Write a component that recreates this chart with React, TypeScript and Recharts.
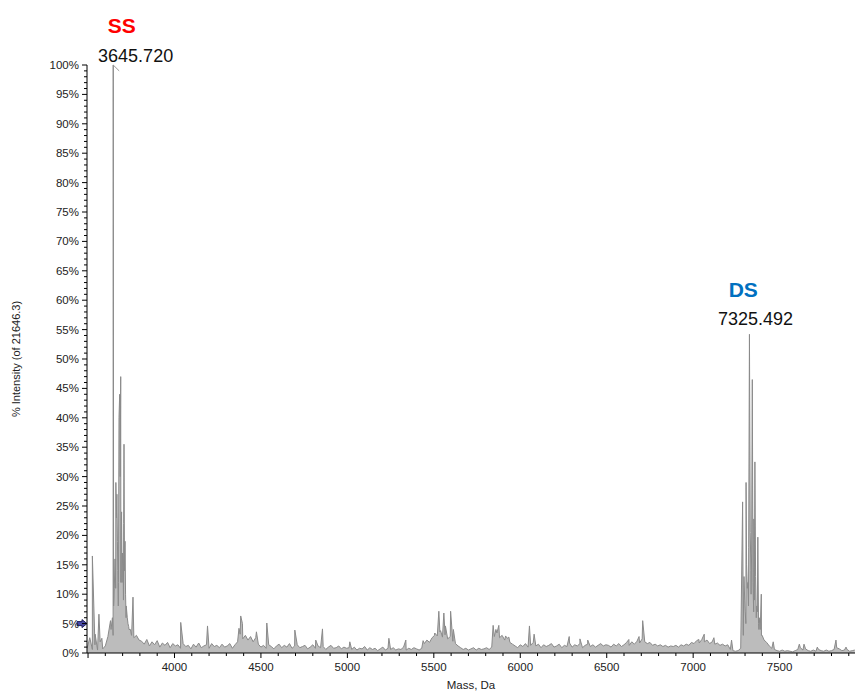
import { ComposedChart, Area, XAxis, YAxis, ReferenceDot, ReferenceLine } from 'recharts';

// baseline noise, sampled every 15 Da from 3495 Da (% intensity)
const noiseStart = 3495;
const noiseStep = 15;
const noise = [
  // 3495 - 3600
  0.8, 2.6, 0.6, 1.4, 0.5, 1.9, 0.7, 1.2,
  // 3615 - 3795 (SS cluster base)
  2.8, 5.5, 3.0, 11, 8, 12, 9, 6, 4.5, 3.2, 2.6, 3.0, 2.2,
  // 3810 - 4005
  2.0, 1.5, 2.3, 1.2, 1.9, 1.4, 2.1, 1.0, 1.7, 1.3, 1.8, 0.9, 1.6, 1.2,
  // 4020 - 4365
  1.4, 0.8, 1.6, 1.1, 1.3, 0.7, 1.5, 1.0, 1.7, 0.9, 1.2, 1.4, 0.8, 1.6, 1.1, 1.3, 0.9, 1.5, 1.0, 1.2, 1.6, 0.8, 1.4, 1.9,
  // 4380 - 4470
  3.2, 2.4, 3.0, 2.2, 2.8, 1.9, 2.6,
  // 4485 - 4995
  1.5, 1.0, 1.3, 0.8, 1.4, 1.1, 0.7, 1.2, 1.5, 0.9, 1.3, 1.0, 1.6, 0.8, 1.2, 1.4, 0.9, 1.1, 1.3, 0.7,
  1.0, 1.4, 0.8, 1.2, 0.9, 1.1, 0.6, 1.0, 1.3, 0.8, 0.9, 1.2, 0.7, 1.0, 0.8,
  // 5010 - 5445
  0.9, 0.6, 1.0, 0.5, 0.8, 0.7, 1.1, 0.5, 0.9, 0.6, 0.8, 0.4, 0.7, 1.0, 0.5, 0.8, 0.6, 0.9, 0.5, 0.7,
  0.6, 1.0, 0.5, 0.8, 0.6, 0.9, 0.7, 0.5, 0.8, 1.6,
  // 5460 - 5640
  2.2, 1.8, 2.6, 3.4, 2.9, 3.6, 2.7, 3.1, 2.4, 2.8, 2.0, 1.6, 1.2,
  // 5655 - 5835
  0.9, 0.6, 0.8, 0.5, 0.7, 0.9, 0.5, 0.8, 0.6, 0.7, 0.9, 0.6, 1.0,
  // 5850 - 5955
  2.8, 3.4, 2.6, 3.0, 2.2, 2.5, 1.8, 1.5,
  // 5970 - 6495
  1.2, 0.9, 1.4, 1.1, 1.6, 1.0, 1.3, 1.8, 1.2, 1.5, 0.9, 1.4, 1.1, 1.3, 1.6, 1.0, 1.2, 1.5, 0.9, 1.3,
  1.1, 1.7, 1.0, 1.4, 1.2, 1.6, 0.9, 1.3, 1.5, 1.1, 1.4, 1.0, 1.3, 1.6, 1.2, 1.4,
  // 6510 - 7200
  1.3, 1.0, 1.5, 1.2, 1.6, 1.1, 1.4, 1.8, 1.3, 1.9, 1.5, 2.0, 1.7, 2.4, 1.9, 1.6, 1.8, 1.3, 1.5, 1.2,
  1.4, 1.1, 1.3, 1.0, 1.2, 1.1, 1.3, 1.0, 1.4, 1.2, 1.5, 1.3, 1.8, 1.6, 2.1, 1.7, 2.3, 1.9, 2.2, 1.6,
  1.9, 1.5, 1.7, 1.3, 1.5, 1.2, 1.4,
  // 7215 - 7275
  0.6, 0.4, 0.3, 0.4, 0.8,
  // 7290 - 7410 (DS cluster base)
  3, 5, 8, 10, 7, 6, 4, 3, 2.2,
  // 7425 - 7935
  1.8, 1.2, 0.8, 0.6, 0.4, 0.3, 0.5, 0.3, 0.4, 0.3, 0.2, 0.4, 0.6, 0.9, 0.5, 0.7, 0.4, 0.3, 0.5, 0.3,
  0.6, 0.4, 0.3, 0.5, 0.3, 0.4, 0.6, 0.9, 0.7, 0.4, 0.5, 0.6, 0.3, 0.4, 0.5,
];

// SS cluster peaks (Da, % intensity)
const ssMass = [
  3525, 3541, 3563, 3580, 3633, 3641, 3645.72, 3648, 3652, 3656, 3661, 3664, 3667, 3670, 3672, 3676,
  3679, 3683, 3686, 3689, 3691, 3694, 3697, 3699, 3703, 3706, 3708, 3711, 3714, 3717, 3721, 3724,
  3727, 3731, 3737, 3745, 3752, 3760,
];
const ssInt = [
  16.5, 3.2, 6.6, 2.5, 4, 6, 100, 8, 11, 16, 29, 23, 27, 19, 14, 12,
  40, 44, 30, 47, 20, 24, 12, 17, 15, 22, 35.5, 14, 19, 10, 8, 7,
  6, 5, 4, 4, 3, 9.5,
];

// DS cluster peaks
const dsMass = [
  7286, 7290, 7294, 7298, 7301, 7306, 7309, 7313, 7317, 7321, 7325.49, 7330, 7334, 7338, 7342, 7346,
  7351, 7354, 7357, 7361, 7368, 7371, 7374, 7378, 7382, 7388, 7394, 7399,
];
const dsInt = [
  25.7, 5, 13, 9, 7, 29, 15, 11, 12, 18, 54.2, 20.5, 14, 17, 46.5, 12,
  22.8, 9, 32.5, 13, 8, 7, 19.7, 5, 6, 4, 10, 3,
];

// isolated peaks above the noise
const otherMass = [
  4036, 4191, 4373, 4383, 4393, 4474, 4534, 4696, 4817, 4856, 5014, 5240, 5338, 5438,
  5504, 5529, 5539, 5558, 5567, 5597, 5613, 5843, 5859, 5876, 5915, 5934, 6053, 6080,
  6283, 6345, 6390, 6628, 6687, 6708, 7033, 7064, 7120, 7222,
  7463, 7614, 7641, 7718, 7826, 7884,
];
const otherInt = [
  5.2, 4.6, 4.2, 6.3, 5, 3.6, 5.1, 3.9, 2.2, 4.1, 1.9, 2.5, 2.2, 2.1,
  3, 7.1, 3.8, 6.8, 4.6, 7.1, 4, 4.7, 4, 4.7, 2.9, 2.7, 4.6, 3.2,
  2.8, 2.4, 2.2, 2.3, 2.8, 5.5, 2.3, 3.2, 2.6, 2.2,
  1.9, 1.5, 1.5, 1, 2.2, 1,
];

const xTickValues = [
  3500, 3600, 3700, 3800, 3900, 4000, 4100, 4200, 4300, 4400, 4500, 4600, 4700, 4800, 4900,
  5000, 5100, 5200, 5300, 5400, 5500, 5600, 5700, 5800, 5900, 6000, 6100, 6200, 6300, 6400,
  6500, 6600, 6700, 6800, 6900, 7000, 7100, 7200, 7300, 7400, 7500, 7600, 7700, 7800, 7900,
];
const xLabels = [4000, 4500, 5000, 5500, 6000, 6500, 7000, 7500];
const yLabels = [0, 5, 10, 15, 20, 25, 30, 35, 40, 45, 50, 55, 60, 65, 70, 75, 80, 85, 90, 95, 100];
const yTickValues = Array.from({ length: 101 }, (_, i) => i);

const spectrum = [
  ...noise.map((v, i) => ({ mass: noiseStart + i * noiseStep, intensity: v })),
  ...ssMass.map((m, i) => ({ mass: m, intensity: ssInt[i] })),
  ...dsMass.map((m, i) => ({ mass: m, intensity: dsInt[i] })),
  ...otherMass.map((m, i) => ({ mass: m, intensity: otherInt[i] })),
].sort((a, b) => a.mass - b.mass);

const FONT = '"Liberation Sans", Arial, sans-serif';

const YTick = ({ x, y, payload }: any) => {
  const major = yLabels.includes(payload.value);
  return (
    <g>
      <line x1={x - (major ? 5 : 3)} x2={x} y1={y} y2={y} stroke="#000" />
      {major && (
        <text x={x - 8} y={y + 4} textAnchor="end" fontSize={11.5} fontFamily={FONT} fill="#222">
          {payload.value}%
        </text>
      )}
    </g>
  );
};

const XTick = ({ x, y, payload }: any) => {
  const major = payload.value % 500 === 0;
  return (
    <g>
      <line x1={x} x2={x} y1={y} y2={y + (major ? 5 : 3)} stroke="#000" />
      {xLabels.includes(payload.value) && (
        <text x={x} y={y + 18} textAnchor="middle" fontSize={11.5} fontFamily={FONT} fill="#222">
          {payload.value}
        </text>
      )}
    </g>
  );
};

function peakLabel(tag: string, color: string, mass: string, tagDx: number, tagDy: number, massDx: number, massDy: number) {
  return ({ viewBox }: any) => (
    <g fontFamily={FONT}>
      <text x={viewBox.x + tagDx} y={viewBox.y + tagDy} textAnchor="middle" fontSize={21} fontWeight="bold" fill={color}>
        {tag}
      </text>
      <text x={viewBox.x + massDx} y={viewBox.y + massDy} textAnchor="middle" fontSize={18} fill="#111">
        {mass}
      </text>
    </g>
  );
}

const Arrow = ({ cx, cy }: any) => (
  <polygon
    points={`${cx - 10},${cy - 2} ${cx - 5},${cy - 2} ${cx - 5},${cy - 4} ${cx},${cy} ${cx - 5},${cy + 4} ${cx - 5},${cy + 2} ${cx - 10},${cy + 2}`}
    fill="#4b4ba8"
    stroke="#1d1d5c"
    strokeWidth={1}
  />
);

export default function App() {
  return (
    <div style={{ position: 'fixed', left: 0, top: 0, width: 855, height: 691, background: '#fff' }}>
      <ComposedChart
        width={855}
        height={691}
        data={spectrum}
        margin={{ top: 65, right: 0, left: 0, bottom: 0 }}
      >
        <XAxis
          dataKey="mass"
          type="number"
          domain={[3494, 7936]}
          allowDataOverflow
          ticks={xTickValues}
          interval={0}
          tick={<XTick />}
          tickLine={false}
          tickSize={0}
          tickMargin={0}
          height={38}
          axisLine={{ stroke: '#000' }}
          label={{
            value: 'Mass, Da',
            position: 'insideBottom',
            offset: 2,
            style: { fontSize: 11.5, fontFamily: FONT, fill: '#222' },
          }}
        />
        <YAxis
          type="number"
          domain={[0, 100]}
          allowDataOverflow
          ticks={yTickValues}
          interval={0}
          tick={<YTick />}
          tickLine={false}
          tickSize={0}
          tickMargin={0}
          width={87}
          axisLine={{ stroke: '#000' }}
          label={{
            content: ({ viewBox }: any) => (
              <text
                x={viewBox.x + 20}
                y={viewBox.y + viewBox.height / 2}
                transform={`rotate(-90, ${viewBox.x + 20}, ${viewBox.y + viewBox.height / 2})`}
                textAnchor="middle"
                fontSize={11}
                fontFamily={FONT}
                fill="#222"
              >
                % Intensity (of 21646.3)
              </text>
            ),
          }}
        />
        <Area
          type="linear"
          dataKey="intensity"
          stroke="#8a8a8a"
          strokeWidth={1}
          fill="#a0a0a0"
          fillOpacity={0.7}
          dot={false}
          isAnimationActive={false}
        />
        <ReferenceLine
          segment={[{ x: 3645.72, y: 100 }, { x: 3680, y: 99 }]}
          stroke="#999"
          ifOverflow="visible"
        />
        <ReferenceDot
          x={3645.72}
          y={100}
          r={0}
          ifOverflow="visible"
          label={{ content: peakLabel('SS', '#ff0000', '3645.720', 8.5, -31.7, 22.4, -3.3) }}
        />
        <ReferenceDot
          x={7325.49}
          y={54.2}
          r={0}
          ifOverflow="visible"
          label={{ content: peakLabel('DS', '#0070c0', '7325.492', -6.2, -37.6, 6, -9.3) }}
        />
        <ReferenceDot x={3494} y={5} r={4} ifOverflow="visible" shape={<Arrow />} />
      </ComposedChart>
    </div>
  );
}
